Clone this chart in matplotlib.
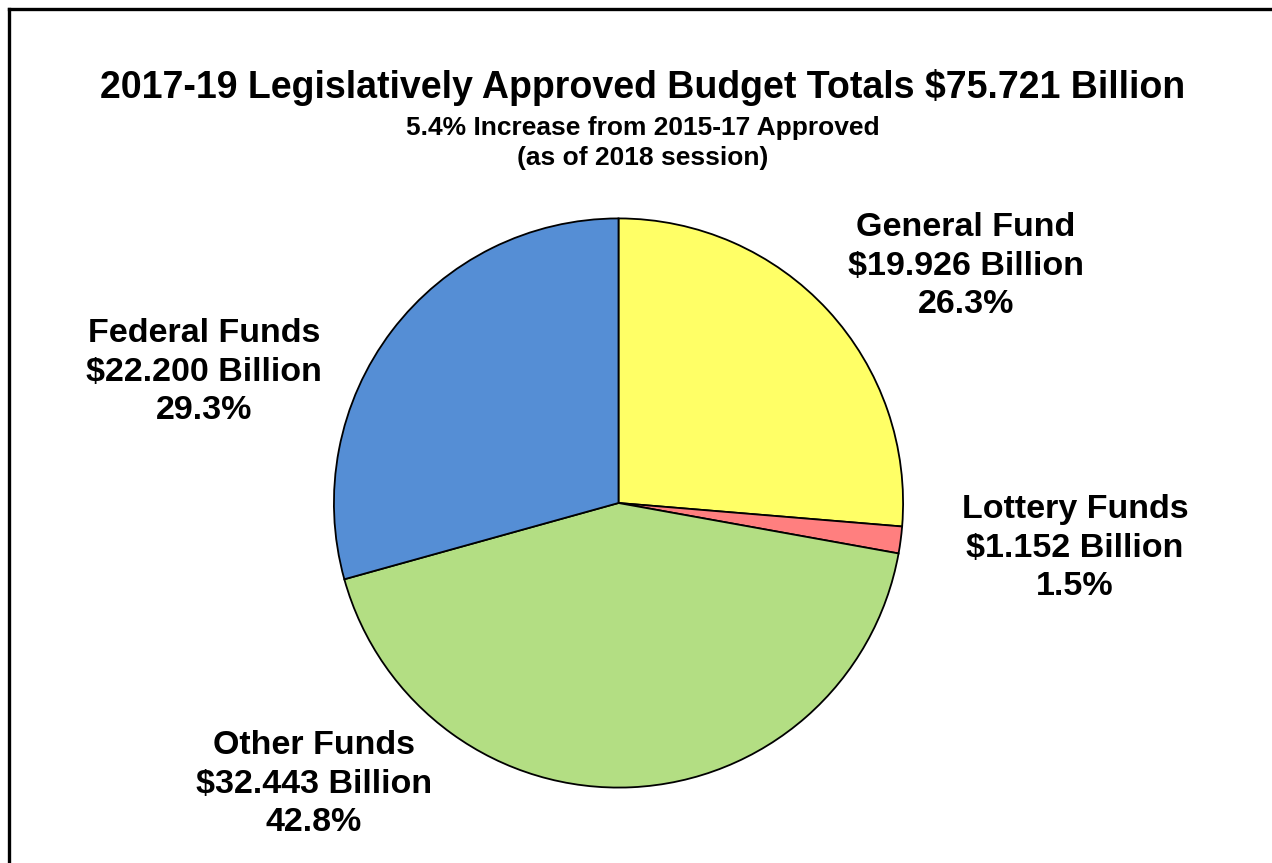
import matplotlib
matplotlib.use("Agg")
import matplotlib.pyplot as plt
from matplotlib.lines import Line2D

plt.rcParams['font.family'] = ['Liberation Sans', 'DejaVu Sans']

# budget by fund type, billions of dollars
funds = ['General Fund', 'Lottery Funds', 'Other Funds', 'Federal Funds']
amounts = [19.926, 1.152, 32.443, 22.200]
colors = ['#FFFF66', '#FF7F7F', '#B3DE83', '#558ED5']

total = sum(amounts)

W, H = 1272, 863
fig = plt.figure(figsize=(W / 100, H / 100), dpi=100)

# pie centre (618.5, 503) px, radius 286 px
cx, cy, r = 618.5, 503, 286
ax = fig.add_axes([(cx - r) / W, (H - cy - r) / H, 2 * r / W, 2 * r / H])
ax.pie(amounts, colors=colors, startangle=90, counterclock=False, radius=1,
       wedgeprops=dict(edgecolor='black', linewidth=1.3))
ax.set_xlim(-1.005, 1.005)
ax.set_ylim(-1.005, 1.005)
ax.set_aspect('equal')
ax.axis('off')

# label blocks (centre pixel positions)
label_pos = [(966, 266), (1075, 548), (314, 784), (204, 372)]
for name, amt, (px, py) in zip(funds, amounts, label_pos):
    txt = f"{name}\n${amt:.3f} Billion\n{amt / total * 100:.1f}%"
    fig.text(px / W, 1 - py / H, txt, ha='center', va='center',
             fontsize=24.5, fontweight='bold', linespacing=1.31)

fig.text(643 / W, 1 - 88 / H,
         f"2017-19 Legislatively Approved Budget Totals ${total:.3f} Billion",
         ha='center', va='center', fontsize=27, fontweight='bold')
fig.text(643 / W, 1 - 143 / H,
         "5.4% Increase from 2015-17 Approved\n(as of 2018 session)",
         ha='center', va='center', fontsize=19, fontweight='bold', linespacing=1.36)

# frame (only left and top edges show)
fig.add_artist(Line2D([9 / W, 9 / W], [0, 1 - 9 / H], color='black', linewidth=2.4,
                      transform=fig.transFigure))
fig.add_artist(Line2D([9 / W, 1], [1 - 9 / H, 1 - 9 / H], color='black', linewidth=2.4,
                      transform=fig.transFigure))

fig.savefig("out.png", dpi=100)
